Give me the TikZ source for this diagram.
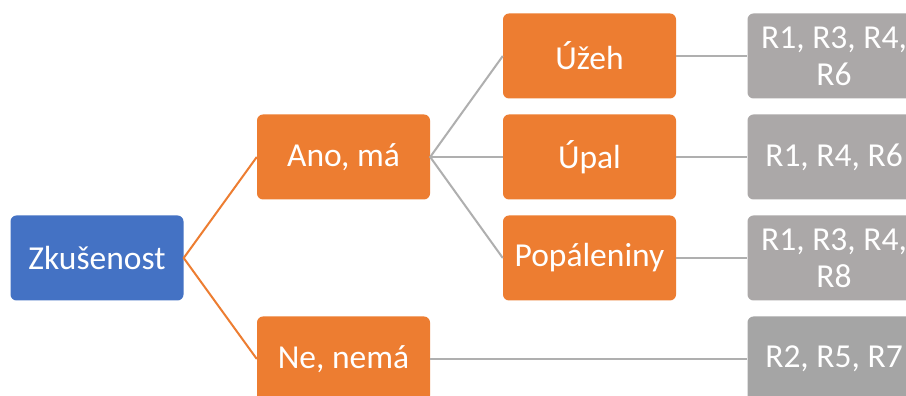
\documentclass[tikz,border=0pt]{standalone}
\usepackage{fontspec}
\setmainfont{Carlito}
\definecolor{accblue}{HTML}{4472C4}
\definecolor{accorange}{HTML}{ED7D31}
\definecolor{boxgray}{HTML}{ABA8A8}
\definecolor{boxgraydark}{HTML}{A5A5A5}
\definecolor{linegray}{HTML}{AFAFAF}
\begin{document}
\begin{tikzpicture}[x=1pt,y=1pt,
  card/.style={rectangle, rounded corners=6pt, minimum width=173pt, minimum height=85pt,
    inner sep=0pt, align=center, text=white, font=\fontsize{33.5}{37}\selectfont},
  rootcard/.style={card, fill=accblue},
  midcard/.style={card, fill=accorange},
  leafcard/.style={card, fill=boxgray},
  leafdark/.style={card, fill=boxgraydark},
  orangelink/.style={draw=accorange, line width=2pt},
  graylink/.style={draw=linegray, line width=2pt}]
\clip (0,0) rectangle (906,396);
\fill[white] (0,0) rectangle (906,396);

\node[rootcard] (zk) at (97,138) {Zkušenost};
\node[midcard] (ano) at (343.5,239) {Ano, má};
\node[midcard] (ne) at (343.5,37) {Ne, nemá};
\node[midcard] (uzeh) at (589.5,340) {Úžeh};
\node[midcard] (upal) at (589.5,239) {Úpal};
\node[midcard] (pop) at (589.5,138) {Popáleniny};
\node[leafcard] (g1) at (834,340) {R1, R3, R4,\\R6};
\node[leafcard] (g2) at (834,239) {R1, R4, R6};
\node[leafcard] (g3) at (834,138) {R1, R3, R4,\\R8};
\node[leafdark] (g4) at (834,37) {R2, R5, R7};

\draw[orangelink] (ano.west) -- (zk.east) -- (ne.west);
\draw[graylink] (uzeh.west) -- (ano.east) -- (pop.west);
\draw[graylink] (ano.east) -- (upal.west);
\draw[graylink] (uzeh.east) -- (g1.west);
\draw[graylink] (upal.east) -- (g2.west);
\draw[graylink] (pop.east) -- (g3.west);
\draw[graylink] (ne.east) -- (g4.west);
\end{tikzpicture}
\end{document}
